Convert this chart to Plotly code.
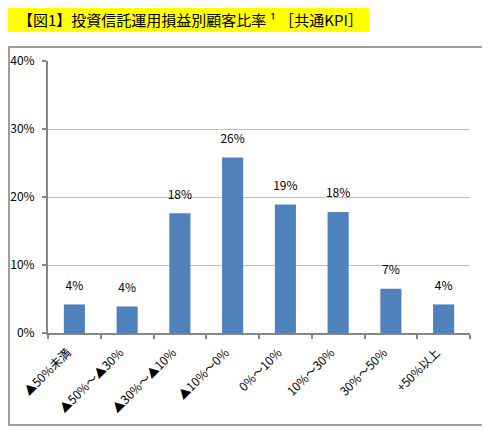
import plotly.graph_objects as go

# data
categories = [
    "▲50%未満",
    "▲50%～▲30%",
    "▲30%～▲10%",
    "▲10%～0%",
    "0%～10%",
    "10%～30%",
    "30%～50%",
    "+50%以上",
]
shares = [4.2, 3.9, 17.6, 25.8, 18.9, 17.8, 6.5, 4.2]
share_labels = ["4%", "4%", "18%", "26%", "19%", "18%", "7%", "4%"]
y_ticks = [0, 10, 20, 30, 40]
y_tick_labels = ["0%", "10%", "20%", "30%", "40%"]

title_text = "【図1】投資信託運用損益別顧客比率 ¹ ［共通KPI］"

FONT = "Noto Sans CJK JP, Noto Sans, sans-serif"
AXIS_GREY = "#868686"

# the page body adds an 8px offset, so the figure is 8px smaller
OFF = 8
W, H = 490 - OFF, 430 - OFF
# plot area in window px: x 48..470, y 61..333
PX_L, PX_R, PX_T, PX_B = 48, 470, 61, 333
pw, ph = PX_R - PX_L, PX_B - PX_T


def px_x(v):
    return (v - PX_L) / pw


def px_y(v):
    return (PX_B - v) / ph


fig = go.Figure()
fig.add_trace(
    go.Bar(
        x=categories,
        y=shares,
        marker=dict(color="#4F81BD", line=dict(width=0)),
        width=0.4,
        showlegend=False,
        hoverinfo="skip",
    )
)
# value labels sit a little above each bar (invisible marker gives the gap)
fig.add_trace(
    go.Scatter(
        x=categories,
        y=shares,
        mode="markers+text",
        text=share_labels,
        textposition="top center",
        textfont=dict(size=12, color="#000000", family=FONT),
        marker=dict(size=17, opacity=0),
        cliponaxis=False,
        showlegend=False,
    )
)

fig.update_layout(
    width=W,
    height=H,
    margin=dict(l=PX_L - OFF, r=490 - PX_R, t=PX_T - OFF, b=430 - PX_B, pad=0),
    paper_bgcolor="white",
    plot_bgcolor="white",
    font=dict(family=FONT, size=12, color="#000000"),
    shapes=[
        # outer chart frame (left edge kept inside the svg)
        dict(
            type="rect",
            xref="paper",
            yref="paper",
            x0=px_x(OFF + 1),
            x1=px_x(484),
            y0=px_y(425),
            y1=px_y(47),
            line=dict(color="#7f7f7f", width=1.5),
            fillcolor="rgba(0,0,0,0)",
            layer="above",
        ),
        # yellow title box
        dict(
            type="rect",
            xref="paper",
            yref="paper",
            x0=px_x(OFF),
            x1=px_x(369),
            y0=px_y(32),
            y1=px_y(OFF),
            line=dict(width=0),
            fillcolor="#FFFF00",
            layer="below",
        ),
    ],
    annotations=[
        dict(
            text=title_text,
            xref="paper",
            yref="paper",
            x=px_x(16),
            y=px_y(19),
            xanchor="left",
            yanchor="middle",
            showarrow=False,
            font=dict(size=15, color="#000000", family=FONT),
        )
    ],
)

fig.update_xaxes(
    type="category",
    range=[-0.5, len(categories) - 0.5],
    automargin=False,
    tickangle=-45,
    tickson="boundaries",
    ticks="outside",
    ticklen=4,
    tickwidth=2,
    tickcolor=AXIS_GREY,
    ticklabelstandoff=6,
    ticklabelshift=-7,
    showline=True,
    linecolor=AXIS_GREY,
    linewidth=2,
    showgrid=False,
    tickfont=dict(size=12, color="#000000", family=FONT),
)

fig.update_yaxes(
    range=[0, 40],
    automargin=False,
    tickvals=y_ticks,
    ticktext=y_tick_labels,
    ticks="outside",
    ticklen=4,
    tickwidth=2,
    tickcolor=AXIS_GREY,
    ticklabelstandoff=5,
    showline=True,
    linecolor=AXIS_GREY,
    linewidth=2,
    showgrid=True,
    gridcolor="#c0c0c0",
    gridwidth=1,
    zeroline=False,
    tickfont=dict(size=12, color="#000000", family=FONT),
)

fig.write_html("out.html")
